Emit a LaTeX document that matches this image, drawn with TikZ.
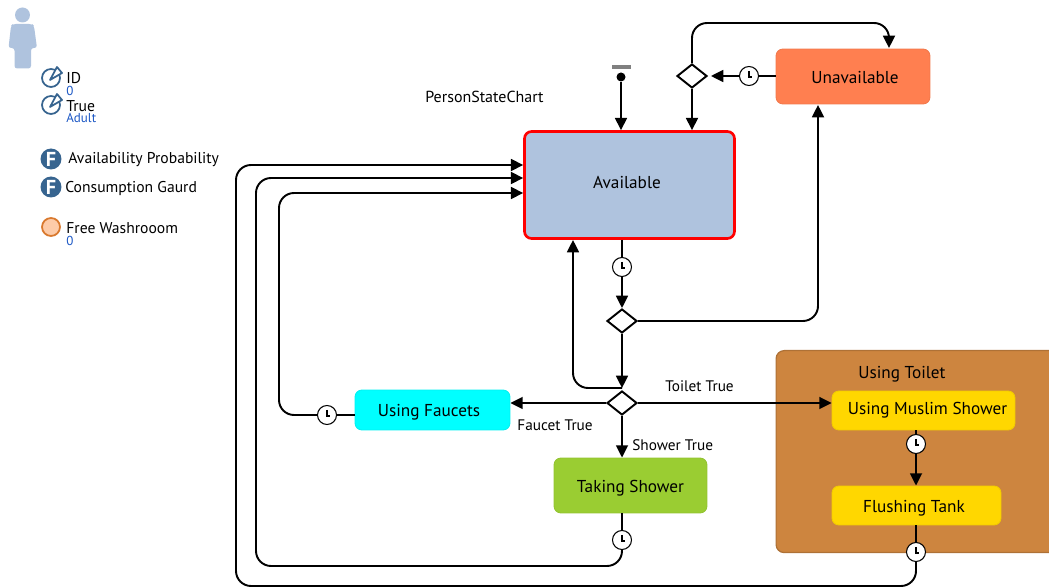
\documentclass[tikz,border=0pt]{standalone}
\usepackage{fontspec}
\setmainfont{PT Sans}
\usetikzlibrary{arrows.meta,positioning,shapes.geometric}

\definecolor{personblue}{HTML}{AFC3DE}
\definecolor{iconblue}{HTML}{37648F}
\definecolor{valueblue}{HTML}{1A56C4}
\definecolor{coral}{HTML}{FF7F50}
\definecolor{aqua}{HTML}{00FFFF}
\definecolor{yellowgreen}{HTML}{9ACD32}
\definecolor{peru}{HTML}{CD853F}
\definecolor{gold}{HTML}{FFD700}
\definecolor{washfill}{HTML}{FDCBA8}
\definecolor{washline}{HTML}{D9792E}

\tikzset{
    state/.style={draw=#1!95!black, fill=#1, rounded corners=0.14cm, line width=0.5pt, inner sep=0pt},
    statetext/.style={inner sep=0pt, font=\fontsize{9.8}{11}\selectfont},
    choice/.style={diamond, draw, fill=white, line width=1.1pt, minimum width=0.6cm, minimum height=0.48cm, inner sep=0pt, aspect=1.25},
    clock/.style={circle, draw, fill=white, line width=0.6pt, minimum size=0.38cm, inner sep=0pt,
        path picture={\draw[line width=0.6pt] (path picture bounding box.center) ++(0,-5) -- ++(0,6) -- ++(3,0);}},
    trans/.style={line width=1.1pt, rounded corners=0.3cm, -{Triangle[length=7pt,width=6.8pt]}},
    plain/.style={line width=1.1pt, rounded corners=0.3cm},
    lbl/.style={anchor=west, inner sep=0pt, font=\fontsize{8.7}{10}\selectfont},
    varname/.style={anchor=west, inner sep=0pt, font=\fontsize{8.9}{10}\selectfont},
    varvalue/.style={anchor=west, inner sep=0pt, text=valueblue, font=\fontsize{7.4}{9}\selectfont},
    fun/.style={circle, fill=iconblue, minimum size=0.42cm, inner sep=0pt, text=white, font=\fontsize{11.5}{11.5}\bfseries\selectfont},
    stockicon/.style={circle, draw=iconblue, line width=1pt, minimum size=0.36cm, inner sep=0pt}
}

\begin{document}
\begin{tikzpicture}[x=0.02cm, y=-0.02cm]
    \clip (0,0) rectangle (1049,587);

    % person and its fields
    \fill[personblue] (22.5,15) circle (7.5);
    \fill[personblue, rounded corners=1.5pt] (13,24) -- (32,24) -- (34,26) -- (37,48) -- (31,48) -- (31,68.5) -- (14.5,68.5) -- (14.5,48) -- (8.5,48) -- (11,26) -- cycle;

    \node[stockicon] (idicon) at (51,78) {};
    \node[stockicon] (trueicon) at (51,105) {};
    \foreach \icon in {idicon, trueicon} {
        \draw[iconblue, fill=white, line width=1pt, line join=round] (\icon.center) ++(-1,2) -- ++(7,-13) -- ++(5,6) -- cycle;
    }
    \node[varname] (idname) at (66,78) {ID};
    \node[varvalue] (idvalue) at (66,91) {0};
    \node[varname] (truename) at (66,106) {True};
    \node[varvalue] (truevalue) at (66,118) {Adult};

    \node[fun] (availfun) at (51,159) {F};
    \node[varname] (availname) at (68,160) {Availability Probability};
    \node[fun] (gaurdfun) at (51,187) {F};
    \node[varname] (gaurdname) at (65,189) {Consumption Gaurd};

    \node[circle, draw=washline, fill=washfill, line width=1pt, minimum size=0.36cm, inner sep=0pt] (washicon) at (51,227) {};
    \node[varname] (washname) at (66,228) {Free Washrooom};
    \node[varvalue] (washvalue) at (66,241) {0};

    \node[lbl, font=\fontsize{9.1}{10}\selectfont] (chartname) at (425,97) {PersonStateChart};

    % states
    \node[state=personblue, draw=red, line width=1.5pt, minimum width=4.2cm, minimum height=2.14cm,
        label={[statetext,xshift=-0.05cm,yshift=0.06cm]center:Available}] (available) at (629.5,185) {};
    \node[state=coral, minimum width=3.08cm, minimum height=1.1cm,
        label={[statetext,xshift=0.04cm,yshift=-0.03cm]center:Unavailable}] (unavailable) at (853,76.5) {};
    \node[state=aqua, minimum width=3.1cm, minimum height=0.8cm,
        label={[statetext,xshift=-0.07cm,yshift=-0.04cm]center:Using Faucets}] (faucets) at (432.5,410) {};
    \node[state=yellowgreen, minimum width=3.06cm, minimum height=1.1cm,
        label={[statetext,yshift=-0.06cm]center:Taking Shower}] (shower) at (630.5,485.5) {};
    \node[draw=peru!85!black, fill=peru, rounded corners=0.16cm, line width=0.7pt, minimum width=6cm, minimum height=4.04cm, anchor=north west] (toilet) at (775.5,350) {};
    \node[lbl, font=\fontsize{9.8}{11}\selectfont] (toiletname) at (858,374) {Using Toilet};
    \node[state=gold, minimum width=3.66cm, minimum height=0.78cm,
        label={[statetext,xshift=0.08cm]center:Using Muslim Shower}] (muslim) at (923.5,410.5) {};
    \node[state=gold, minimum width=3.38cm, minimum height=0.78cm,
        label={[statetext,xshift=-0.05cm,yshift=-0.06cm]center:Flushing Tank}] (flushing) at (916.5,505.5) {};

    % pseudo states
    \node[fill=gray, minimum width=0.38cm, minimum height=0.07cm, inner sep=0pt] (startbar) at (621.5,67) {};
    \node[circle, fill=black, minimum size=0.18cm, inner sep=0pt] (start) at (621,77) {};
    \node[choice] (upperchoice) at (692,76) {};
    \node[choice] (middlechoice) at (622,321) {};
    \node[choice] (lowerchoice) at (622,403) {};

    \node[clock] (unavailclock) at (749,76) {};
    \node[clock] (availclock) at (622,267) {};
    \node[clock] (faucetclock) at (327,415) {};
    \node[clock] (showerclock) at (622,540) {};
    \node[clock] (muslimclock) at (916,444) {};
    \node[clock] (flushclock) at (916,552) {};

    \coordinate (inouter) at (available.west |- 0,165);
    \coordinate (inmiddle) at (available.west |- 0,178);
    \coordinate (ininner) at (available.west |- 0,193);
    \coordinate (lowertop) at ([yshift=0.3cm]lowerchoice.center);

    % transitions
    \draw[trans] (start) -- (start |- available.north);
    \draw[plain] (unavailable.west |- unavailclock) -- (unavailclock);
    \draw[trans] (unavailclock) -- ([xshift=0.06cm]upperchoice.east);
    \draw[trans] (upperchoice) -- (upperchoice |- available.north);
    \draw[trans] (upperchoice) |- (889,23) -- (889,48);
    \draw[plain] (availclock |- available.south) -- (availclock);
    \draw[trans] (availclock) -- (middlechoice);
    \draw[trans] (middlechoice) -| (818,105);
    \draw[trans] (middlechoice) -- (lowertop);
    \draw[trans] (lowertop) -| (573,240);
    \draw[trans] (lowerchoice) -- (faucets.east |- lowerchoice);
    \draw[trans] (lowerchoice) -- (muslim.west |- lowerchoice);
    \draw[trans] (lowerchoice) -- (lowerchoice |- shower.north);
    \draw[plain] (faucets.west |- faucetclock) -- (faucetclock);
    \draw[trans] (faucetclock) -| (279,193) -- (ininner);
    \draw[plain] (showerclock |- shower.south) -- (showerclock);
    \draw[trans] (showerclock) |- (256,566) -- (256,178) -- (inmiddle);
    \draw[plain] (muslimclock |- muslim.south) -- (muslimclock);
    \draw[trans] (muslimclock) -- (muslimclock |- flushing.north);
    \draw[plain] (flushclock |- flushing.south) -- (flushclock);
    \draw[trans] (flushclock) |- (236,586) -- (236,165) -- (inouter);

    \node[lbl] (toilettrue) at (665,386) {Toilet True};
    \node[lbl] (faucettrue) at (517,425) {Faucet True};
    \node[lbl] (showertrue) at (632,445) {Shower True};
\end{tikzpicture}
\end{document}
